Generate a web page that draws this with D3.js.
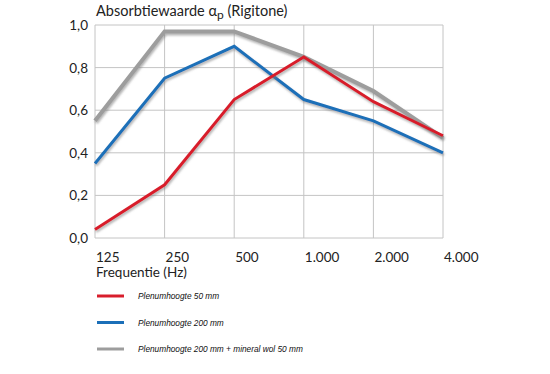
<!DOCTYPE html>
<html>
<head>
<meta charset="utf-8">
<script src="https://cdn.jsdelivr.net/npm/d3@7"></script>
<style>
  body { margin: 0; background: #fff; }
  svg { display: block; }
</style>
</head>
<body>
<script>
const freqs = ["125", "250", "500", "1.000", "2.000", "4.000"];
const yTicks = [0, 0.2, 0.4, 0.6, 0.8, 1.0];

const red50 = [0.04, 0.25, 0.65, 0.85, 0.64, 0.48];
const blue200 = [0.35, 0.75, 0.90, 0.65, 0.55, 0.40];
const gray200wol = [0.55, 0.97, 0.97, 0.85, 0.69, 0.47];

const seriesNames = ["Plenumhoogte 50 mm", "Plenumhoogte 200 mm", "Plenumhoogte 200 mm + mineral wol 50 mm"];
const seriesColors = ["#d81e2c", "#1b6fb8", "#9d9d9d"];

function main() {
  const width = 550, height = 374;
  const left = 95, right = 443, top = 25, bottom = 238;
  const font = "Lato, Open Sans, sans-serif";

  const svg = d3.select("body").append("svg")
    .attr("width", width)
    .attr("height", height);

  const defs = svg.append("defs");
  defs.append("filter").attr("id", "shadow")
    .attr("x", "-10%").attr("y", "-10%").attr("width", "120%").attr("height", "130%")
    .append("feDropShadow")
    .attr("dx", 1).attr("dy", 2).attr("stdDeviation", 1)
    .attr("flood-color", "#777").attr("flood-opacity", 0.55);

  const x = d3.scalePoint().domain(freqs).range([left, right]);
  const y = d3.scaleLinear().domain([0, 1]).range([bottom, top]);

  // grid
  svg.append("g").selectAll("line")
    .data(freqs)
    .join("line")
    .attr("x1", d => x(d)).attr("x2", d => x(d))
    .attr("y1", top).attr("y2", bottom)
    .attr("stroke", "#c4c4c4").attr("stroke-width", 1);

  svg.append("g").selectAll("line")
    .data(yTicks)
    .join("line")
    .attr("x1", left).attr("x2", right)
    .attr("y1", d => y(d)).attr("y2", d => y(d))
    .attr("stroke", "#c4c4c4").attr("stroke-width", 1);

  // left and bottom frame
  svg.append("line")
    .attr("x1", left).attr("x2", left).attr("y1", top).attr("y2", bottom)
    .attr("stroke", "#b0b0b0").attr("stroke-width", 1.5)
    .attr("filter", "url(#shadow)");
  svg.append("line")
    .attr("x1", left).attr("x2", right).attr("y1", bottom + 1).attr("y2", bottom + 1)
    .attr("stroke", "#a8a8a8").attr("stroke-width", 2.5)
    .attr("filter", "url(#shadow)");

  // y tick labels
  svg.append("g").selectAll("text")
    .data(yTicks)
    .join("text")
    .attr("x", 88).attr("y", d => y(d) + 5)
    .attr("text-anchor", "end")
    .attr("font-family", font)
    .attr("font-size", 13.5)
    .attr("fill", "#222")
    .text(d => d3.format(".1f")(d).replace(".", ","));

  // x tick labels
  svg.append("g").selectAll("text")
    .data(freqs)
    .join("text")
    .attr("x", d => x(d) + 1).attr("y", 262)
    .attr("font-family", font)
    .attr("font-size", 13.5)
    .attr("fill", "#222")
    .text(d => d);

  svg.append("text")
    .attr("x", 96).attr("y", 277)
    .attr("font-family", font)
    .attr("font-size", 13.5)
    .attr("fill", "#222")
    .text("Frequentie (Hz)");

  // title
  const title = svg.append("text")
    .attr("x", 96).attr("y", 16)
    .attr("font-family", font)
    .attr("font-size", 14.5)
    .attr("fill", "#222");
  title.append("tspan").text("Absorbtiewaarde α");
  title.append("tspan").attr("font-size", 12).attr("dy", 3).text("p");
  title.append("tspan").attr("dy", -3).text(" (Rigitone)");

  // lines
  const line = d3.line()
    .x((d, i) => x(freqs[i]))
    .y(d => y(d));

  const allSeries = [gray200wol, blue200, red50];
  const colorsOrdered = [seriesColors[2], seriesColors[1], seriesColors[0]];
  const widths = [4, 3, 3];

  svg.append("g").selectAll("path")
    .data(allSeries)
    .join("path")
    .attr("d", d => line(d))
    .attr("fill", "none")
    .attr("stroke", (d, i) => colorsOrdered[i])
    .attr("stroke-width", (d, i) => widths[i])
    .attr("stroke-linejoin", "miter")
    .attr("filter", "url(#shadow)");

  // legend
  const legend = svg.append("g").selectAll("g")
    .data(seriesNames)
    .join("g")
    .attr("transform", (d, i) => `translate(97, ${296 + i * 26.5})`);

  legend.append("line")
    .attr("x1", 0).attr("x2", 27)
    .attr("stroke", (d, i) => seriesColors[i])
    .attr("stroke-width", 3);

  legend.append("text")
    .attr("x", 41).attr("y", 3.2)
    .attr("font-family", "Liberation Sans, Arial, sans-serif")
    .attr("font-style", "italic")
    .attr("font-size", 8.3)
    .attr("fill", "#111")
    .text(d => d);
}

window.addEventListener("load", main);
</script>
</body>
</html>
